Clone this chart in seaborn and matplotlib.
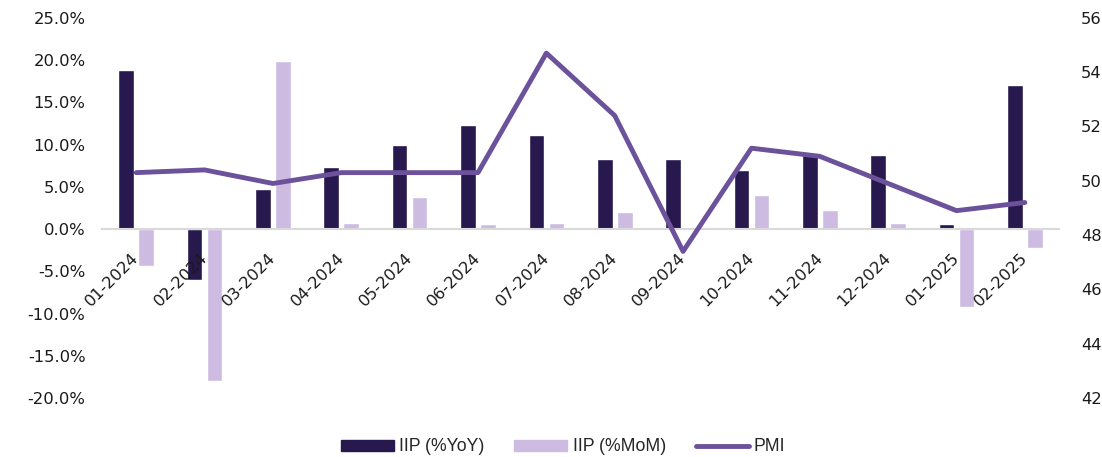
import seaborn as sns
import numpy as np
import pandas as pd
import matplotlib.pyplot as plt
import matplotlib.transforms as mtransforms
from matplotlib.patches import Patch
from matplotlib.lines import Line2D

months = ['01-2024', '02-2024', '03-2024', '04-2024', '05-2024', '06-2024', '07-2024',
          '08-2024', '09-2024', '10-2024', '11-2024', '12-2024', '01-2025', '02-2025']
iip_yoy = [18.8, -6.0, 4.7, 7.3, 10.0, 12.3, 11.1, 8.3, 8.3, 7.0, 8.9, 8.8, 0.6, 17.1]
iip_mom = [-4.4, -18.0, 19.9, 0.7, 3.8, 0.6, 0.7, 2.0, -0.1, 4.0, 2.3, 0.7, -9.2, -2.2]
pmi = [50.3, 50.4, 49.9, 50.3, 50.3, 50.3, 54.7, 52.4, 47.4, 51.2, 50.9, 49.9, 48.9, 49.2]

c_yoy = '#27184d'
c_mom = '#cdbbe2'
c_pmi = '#6b529b'

df = pd.DataFrame({'month': months * 2,
                   'value': iip_yoy + iip_mom,
                   'series': ['IIP (%YoY)'] * len(months) + ['IIP (%MoM)'] * len(months)})

sns.set_style('white')
plt.rcParams['font.family'] = ['DejaVu Sans']

fig = plt.figure(figsize=(11.02, 4.57), dpi=100)
ax = fig.add_axes([0.0926, 0.129, 0.8684, 0.832])

sns.barplot(data=df, x='month', y='value', hue='series', order=months,
            palette=[c_yoy, c_mom], saturation=1, width=0.585, gap=0.22, ax=ax, legend=False)
ax.set_axisbelow(False)

fs = 11.8
ax.set_ylim(-20, 25)
ax.set_yticks(np.arange(-20, 26, 5))
ax.set_yticklabels([f'{v:.1f}%' for v in np.arange(-20, 26, 5)], fontsize=fs, color='#1a1a1a')
ax.set_xlim(-0.5, len(months) - 0.5)
ax.set_xlabel('')
ax.set_ylabel('')
for s in ax.spines.values():
    s.set_visible(False)
ax.spines['bottom'].set_visible(True)
ax.spines['bottom'].set_position(('data', 0))
ax.spines['bottom'].set_color('#d9d9d9')
ax.spines['bottom'].set_linewidth(1.5)
ax.tick_params(axis='y', length=0, pad=12)
ax.tick_params(axis='x', which='major', length=0, pad=15)
ax.set_xticks(np.arange(-0.5, len(months), 1), minor=True)
ax.tick_params(axis='x', which='minor', length=5, width=1.5, color='#d9d9d9', direction='out')
shift = mtransforms.ScaledTranslation(-0.05, 0, fig.dpi_scale_trans)
for lab in ax.get_xticklabels():
    lab.set_rotation(45)
    lab.set_ha('right')
    lab.set_rotation_mode('anchor')
    lab.set_fontsize(fs)
    lab.set_color('#1a1a1a')
    lab.set_transform(lab.get_transform() + shift)

ax2 = ax.twinx()
sns.lineplot(x=np.arange(len(months)), y=pmi, color=c_pmi, lw=3.5, ax=ax2)
ax2.set_ylim(42, 56)
ax2.set_yticks(np.arange(42, 57, 2))
ax2.set_yticklabels([str(v) for v in np.arange(42, 57, 2)], fontsize=fs, color='#1a1a1a')
ax2.tick_params(axis='y', length=0, pad=16)
for s in ax2.spines.values():
    s.set_visible(False)
ax2.set_xlim(-0.5, len(months) - 0.5)

handles = [Patch(color=c_yoy), Patch(color=c_mom), Line2D([], [], color=c_pmi, lw=3.5)]
fig.legend(handles, ['IIP (%YoY)', 'IIP (%MoM)', 'PMI'], loc='center', bbox_to_anchor=(0.511, 0.022),
           ncol=3, frameon=False, handlelength=3, handleheight=0.55, handletextpad=0.3,
           columnspacing=1.7, prop={'family': 'Liberation Sans', 'size': 12.7})

fig.savefig('out.png', dpi=100)
